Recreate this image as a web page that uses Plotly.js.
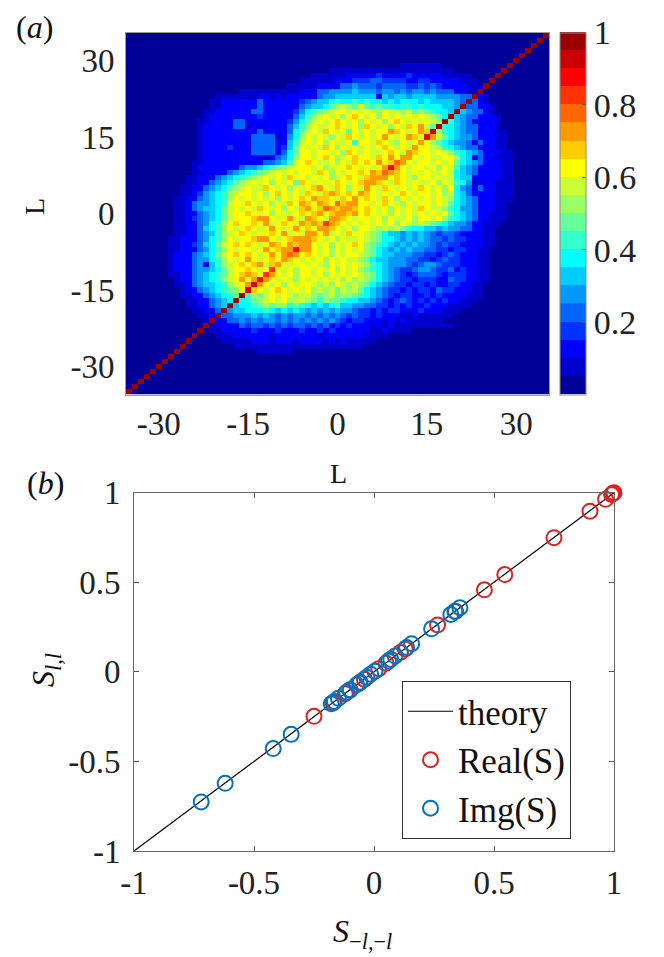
<!DOCTYPE html>
<html><head><meta charset="utf-8">
<script src="https://cdn.plot.ly/plotly-3.0.1.min.js"></script>
<style>html,body{margin:0;padding:0;background:#fff;}#chart{width:664px;height:957px;}</style>
</head><body><div id="chart"></div>
<script>
// ---- Panel (a): heatmap, L = -35..35 ----
const L = [-35,-34,-33,-32,-31,-30,-29,-28,-27,-26,-25,-24,-23,-22,-21,-20,-19,-18,-17,-16,-15,-14,-13,-12,-11,-10,-9,-8,-7,-6,-5,-4,-3,-2,-1,0,1,2,3,4,5,6,7,8,9,10,11,12,13,14,15,16,17,18,19,20,21,22,23,24,25,26,27,28,29,30,31,32,33,34,35];
// colour-band level of each cell (0..j = 20 bands of 0.05), rows from L=35 (top) down to L=-35
const levelRowsTopDown = [
"0000000000 0000000000 0000000000 0000000000 0000000000 0000000000 0000000000 j",
"0000000000 0000000000 0000000000 0000000000 0000000000 0000000000 000000000j 0",
"0000000000 0000000000 0000000000 0000000000 0000000000 0000000000 00000000j0 0",
"0000000000 0000000000 0000000000 0000000000 0000000000 0000000000 0000000j00 0",
"0000000000 0000000000 0000000000 0000000000 0000000000 0000000000 000000j000 0",
"0000000000 0000000000 0000000000 0000000000 0000000000 0000000000 00000j0000 0",
"0000000000 0000000000 0000000000 0000000000 0000001111 1110000000 0000j00000 0",
"0000000000 0000000000 0000000000 0000111111 1111111111 1111100000 000j000000 0",
"0000000000 0000000000 0000000000 0111111222 2232222322 2221111100 00j0000000 0",
"0000000000 0000000000 0000000001 1111122233 3443333223 3222221110 0j00000000 0",
"0000000000 0000000000 0000000111 1122224454 4434444334 3432222111 j000000000 0",
"0000000000 0000000001 1111111112 2244555565 5545545455 454442211j 0000000000 0",
"0000000000 0000011111 1122121222 2245566666 6626566566 66555544j2 1000000000 0",
"0000000000 0000112222 2242222223 4566787787 8776767776 7666654j42 1000000000 0",
"0000000000 0000112222 2242222224 56679aba9b 9898878878 777665j442 2100000000 0",
"0000000000 0001122222 2442222235 789abccbcb cbacbbab9a 98776j6544 2100000000 0",
"0000000000 0001222222 2232222246 8abcbcacdc bcacbcbcbc ba97j65442 2210000000 0",
"0000000000 0011222244 2222222357 9bcbcdcbca cbcacdcbcb cbaj865422 2210000000 0",
"0000000000 0012222244 1222222468 acbbcdcbca dcbcacbdce b9j8765442 2210000000 0",
"0000000000 0012222222 2242222479 bcbdcbc9cb cbccedcbce dia8765442 2211000000 0",
"0000000000 0012222222 244441257a cbcbacbdcb cbcecbcedb heb9765542 2211000000 0",
"0000000000 0012222222 244442268b cbcacbbc8c cbdcbacbce ca97655424 2211000000 0",
"0000000000 0012222322 244442369c bcbdcacbcb cbcdcbcbec cba8765442 2211000000 0",
"0000000000 0012222222 244442479c cbccbcadcb cbbcdcbedc cbcba87654 2221100000 0",
"0000000000 0012222222 22212457ac cbcdcabcdc cbdceceecb cbbcca7624 2211100000 0",
"0000000000 0112222222 22244568bc dcbbcacbdc dcecdfecbc cbcbc97654 2221100000 0",
"0000000000 0122222224 556789abcc cbcabccdcb cbcehecbcc bcacb86542 2221100000 0",
"0000000000 0112222456 789abcbcbc cbdcacbccd cedfedcbcb cbbcb76542 2221100000 0",
"0000000000 1122245678 9abcbcbdcc bcbcabcdcb deeecdcbac cbcbb76622 2221100000 0",
"0000000000 112245679a bcbcacbc9d cbcbcdcbcd eedcbdcbcb bcacb87512 2211100000 0",
"0000000001 12245679ab cbbdcbcacb cdecbdcacb ecbdcbcbcd cbcac75424 2211100000 0",
"0000000001 1235678abc cbcacdcbcb dcbdedcdce dcbcbcdcbc cbcab76422 2211100000 0",
"0000000011 2245678acb cbcbcacbcd ceddcbdcec dcbdcacbcb cbcba76542 2211100000 0",
"0000000011 2455678bcc dcbcacbdce dcedcfdeec cbcdcbacbc cbcb976542 2211000000 0",
"0000000011 2456679bcb cbdcbcacbd ecdfedeedc dcbcacbcbd cbba875542 2211000000 0",
"0000000011 2245679bcc dcbcacbbcd cdecdeedec dcbcacbcbc bcbc976542 2111000000 0",
"0000000011 2345679bcc cdeecbcecb edcbeedcbc cbcacbbcac cbca876542 2111000000 0",
"0000000011 224578acdc cdcebcdcbe dedgedcbcb cbcbcacbab a987655422 1110000000 0",
"0000000011 224678acbc dcbcecbcec dceedcbcac cbabab9877 6656554422 1100000000 0",
"0000000011 224568abcd cbccdcebcb eecebcbdcc ba97665656 5434432222 1100000000 0",
"0000000112 224578acbc cdeecbcdee edcbcacbbc ba97765656 5443433222 1100000000 0",
"0000000112 234679bcdc dcbcedcede ecbcacbcdc a987656565 5434332222 1100000000 0",
"0000000112 224578acbc cbcecdeehe ecbcacbcbc a976565655 4433233221 1000000000 0",
"0000000122 245679bcdc dcbcecefec dcbcacbccb a976655544 3323432221 1000000000 0",
"0000000122 245578acbc ecbcdcedcb cbcacbcbba 9766555443 3234332221 1000000000 0",
"0000000122 245268abcd cdebdecbcc bcbacbcbcb a876555434 5543332221 1000000000 0",
"0000000122 2455679bcc dcbcgcbcac cbcbcacbca 9876543345 5433423221 1000000000 0",
"0000000112 2456789bcd edcgecbcac cbcacbcbcb a976543234 4432333221 1000000000 0",
"0000000012 245678abce cehecbcbac bcbcbcacab a976543323 3322433221 1000000000 0",
"0000000011 2456678abc eiecbcacbc cbabacbaba 9765433233 2322332211 0000000000 0",
"0000000001 22456789ac idcbcdcbcb cabab9bab9 7654332323 3243322211 0000000000 0",
"0000000001 122456789j 8a9bcbcbab ba9ab9aa98 7654323322 3232222111 0000000000 0",
"0000000000 11224567j7 89abcbcabb a98a998776 6543234323 2323221110 0000000000 0",
"0000000000 1122456j67 789a9aa898 7676786655 4433232322 3222111100 0000000000 0",
"0000000000 011224j566 7778767676 5656565543 3232332223 2221110000 0000000000 0",
"0000000000 00112j4455 5656545455 4545454343 3232221121 1111100000 0000000000 0",
"0000000000 0001j22445 4545545454 5454543233 2221212111 1110000000 0000000000 0",
"0000000000 000j122224 3443434344 3434232322 2121211111 1111100000 0000000000 0",
"0000000000 00j0112222 2322232223 2232322222 2112111100 0000000000 0000000000 0",
"0000000000 0j00011122 2222122222 2212222222 1111000000 0000000000 0000000000 0",
"0000000000 j000001111 1222122212 2221212111 1100000000 0000000000 0000000000 0",
"000000000j 0000000011 1111111111 1111111111 0000000000 0000000000 0000000000 0",
"00000000j0 0000000000 0011111100 0000000000 0000000000 0000000000 0000000000 0",
"0000000j00 0000000000 0000000000 0000000000 0000000000 0000000000 0000000000 0",
"000000j000 0000000000 0000000000 0000000000 0000000000 0000000000 0000000000 0",
"00000j0000 0000000000 0000000000 0000000000 0000000000 0000000000 0000000000 0",
"0000j00000 0000000000 0000000000 0000000000 0000000000 0000000000 0000000000 0",
"000j000000 0000000000 0000000000 0000000000 0000000000 0000000000 0000000000 0",
"00j0000000 0000000000 0000000000 0000000000 0000000000 0000000000 0000000000 0",
"0j00000000 0000000000 0000000000 0000000000 0000000000 0000000000 0000000000 0",
"j000000000 0000000000 0000000000 0000000000 0000000000 0000000000 0000000000 0"
];
const levelCodes = "0123456789abcdefghij";
const jet20 = ["rgb(0,0,153)","rgb(0,0,204)","rgb(0,0,255)","rgb(0,51,255)","rgb(0,102,255)",
  "rgb(0,153,255)","rgb(0,204,255)","rgb(0,255,255)","rgb(51,255,204)","rgb(102,255,153)",
  "rgb(153,255,102)","rgb(204,255,51)","rgb(255,255,0)","rgb(255,204,0)","rgb(255,153,0)",
  "rgb(255,102,0)","rgb(255,51,0)","rgb(255,0,0)","rgb(204,0,0)","rgb(153,0,0)"];
const heatTicks = [-30,-15,0,15,30];
const heatTickText = ["-30","-15","0","15","30"];
const cbTicks = [0.2,0.4,0.6,0.8,1];
const cbTickText = ["0.2","0.4","0.6","0.8","1"];

// ---- Panel (b): scatter ----
const theoryX = [-1, 1];
const theoryY = [-1, 1];
const realX = [1.0, 0.995, 0.99, 0.965, 0.90, 0.75, 0.545, 0.46, 0.34, 0.265, 0.13, 0.11, 0.05, 0.02, -0.04, -0.06, -0.10, -0.12, -0.17, -0.25];
const realY = [1.0, 0.995, 0.99, 0.963, 0.897, 0.749, 0.543, 0.458, 0.338, 0.262, 0.128, 0.108, 0.048, 0.018, -0.042, -0.062, -0.102, -0.122, -0.172, -0.248];
const imgX = [-0.72, -0.62, -0.42, -0.345, -0.178, -0.165, -0.148, -0.114, -0.10, -0.072, -0.058, -0.03, -0.014, 0.004, 0.06, 0.07, 0.088, 0.136, 0.157, 0.24, 0.32, 0.337, 0.358];
const imgY = [-0.726, -0.622, -0.428, -0.349, -0.178, -0.165, -0.148, -0.114, -0.10, -0.072, -0.058, -0.03, -0.014, 0.004, 0.06, 0.07, 0.088, 0.136, 0.157, 0.24, 0.32, 0.337, 0.358];
const sTicks = [-1,-0.5,0,0.5,1];
const sTickText = ["-1","-0.5","0","0.5","1"];

// ---- build ----
const rows = levelRowsTopDown.map(s => s.replace(/ /g, ""));
const bad = rows.map((s,i) => s.length !== 71 ? (i + ":" + s.length) : null).filter(Boolean);
if (bad.length) throw new Error("bad rows " + bad.join(","));
const z = rows.slice().reverse().map(s => s.split("").map(ch => (levelCodes.indexOf(ch) + 0.5) / 20));
const colorscale = [];
jet20.forEach((c, k) => { colorscale.push([k / 20, c]); colorscale.push([(k + 1) / 20, c]); });

const W = 664, H = 957;
const px = v => v / W, py = v => 1 - v / H;
const FONT = "Liberation Serif";
const TXT = "#222";

const traces = [
  {type: "heatmap", x: L, y: L, z: z, zmin: 0, zmax: 1, colorscale: colorscale, xaxis: "x", yaxis: "y",
   hoverinfo: "skip", showscale: true,
   colorbar: {x: px(560), xanchor: "left", xpad: 0, ypad: 0, thickness: 26, thicknessmode: "pixels",
     len: 362, lenmode: "pixels", y: py(213.5), yanchor: "middle", outlinewidth: 1, outlinecolor: "#8c8c8c",
     tickvals: cbTicks, ticktext: cbTickText, ticks: "inside", ticklen: 4, tickcolor: "#555", tickwidth: 1,
     tickfont: {family: FONT, size: 34, color: TXT}}},
  {type: "scatter", mode: "lines", x: theoryX, y: theoryY, name: "theory", xaxis: "x2", yaxis: "y2",
   line: {color: "#000", width: 1.2}},
  {type: "scatter", mode: "markers", x: realX, y: realY, name: "Real(S)", xaxis: "x2", yaxis: "y2", cliponaxis: false,
   marker: {symbol: "circle-open", size: 15, color: "rgb(222,32,32)", line: {width: 2, color: "rgb(222,32,32)"}}},
  {type: "scatter", mode: "markers", x: imgX, y: imgY, name: "Img(S)", xaxis: "x2", yaxis: "y2", cliponaxis: false,
   marker: {symbol: "circle-open", size: 15, color: "rgb(0,114,189)", line: {width: 2, color: "rgb(0,114,189)"}}}
];

const axBase = {showgrid: false, zeroline: false, showline: true, fixedrange: true,
  tickfont: {family: FONT, size: 33, color: TXT}};

const layout = {
  width: W, height: H, margin: {l: 0, r: 0, t: 0, b: 0}, paper_bgcolor: "#fff", plot_bgcolor: "#fff",
  font: {family: FONT, size: 33, color: TXT}, showlegend: true,
  xaxis: Object.assign({}, axBase, {domain: [px(126), px(549)], range: [-35.5, 35.5], anchor: "y",
    tickvals: heatTicks, ticktext: heatTickText, ticks: "", mirror: true, linecolor: "#9a9a9a", linewidth: 1,
    ticklabelstandoff: 0}),
  yaxis: Object.assign({}, axBase, {domain: [py(394.5), py(32.5)], range: [-35.5, 35.5], anchor: "x",
    tickvals: heatTicks, ticktext: heatTickText, ticks: "", mirror: true, linecolor: "#9a9a9a", linewidth: 1,
    ticklabelstandoff: 4}),
  xaxis2: Object.assign({}, axBase, {domain: [px(134), px(614)], range: [-1, 1], anchor: "y2",
    tickvals: sTicks, ticktext: sTickText, ticks: "inside", ticklen: 5, tickcolor: "#555", mirror: "allticks",
    linecolor: "#666", linewidth: 1, ticklabelstandoff: 2}),
  yaxis2: Object.assign({}, axBase, {domain: [py(851), py(492.7)], range: [-1, 1], anchor: "x2",
    tickvals: sTicks, ticktext: sTickText, ticks: "inside", ticklen: 5, tickcolor: "#555", mirror: "allticks",
    linecolor: "#666", linewidth: 1, ticklabelstandoff: 6}),
  legend: {x: px(402), y: py(681), xanchor: "left", yanchor: "top", bgcolor: "#fff", bordercolor: "#333",
    borderwidth: 1, itemwidth: 45, font: {family: FONT, size: 35, color: "#111"}},
  annotations: [
    {text: "(<i>a</i>)", xref: "paper", yref: "paper", x: px(34), y: py(27), xanchor: "center", yanchor: "middle",
     showarrow: false, font: {family: FONT, size: 32, color: "#111"}},
    {text: "(<i>b</i>)", xref: "paper", yref: "paper", x: px(45), y: py(483), xanchor: "center", yanchor: "middle",
     showarrow: false, font: {family: FONT, size: 32, color: "#111"}},
    {text: "L", xref: "paper", yref: "paper", x: px(338), y: py(474), xanchor: "center", yanchor: "middle",
     showarrow: false, font: {family: FONT, size: 28, color: "#111"}},
    {text: "L", xref: "paper", yref: "paper", x: px(34), y: py(207), xanchor: "center", yanchor: "middle",
     textangle: -90, showarrow: false, font: {family: FONT, size: 28, color: "#111"}},
    {text: "<i>S</i><sub><i>l</i>,<i>l</i></sub>", xref: "paper", yref: "paper", x: px(45), y: py(670),
     xanchor: "center", yanchor: "middle", textangle: -90, showarrow: false, font: {family: FONT, size: 32, color: "#111"}},
    {text: "<i>S</i><sub>\u2212<i>l</i>,\u2212<i>l</i></sub>", xref: "paper", yref: "paper", x: px(362), y: py(933),
     xanchor: "center", yanchor: "middle", showarrow: false, font: {family: FONT, size: 32, color: "#111"}}
  ]
};

Plotly.newPlot("chart", traces, layout, {staticPlot: true, displayModeBar: false});
</script>
</body></html>
